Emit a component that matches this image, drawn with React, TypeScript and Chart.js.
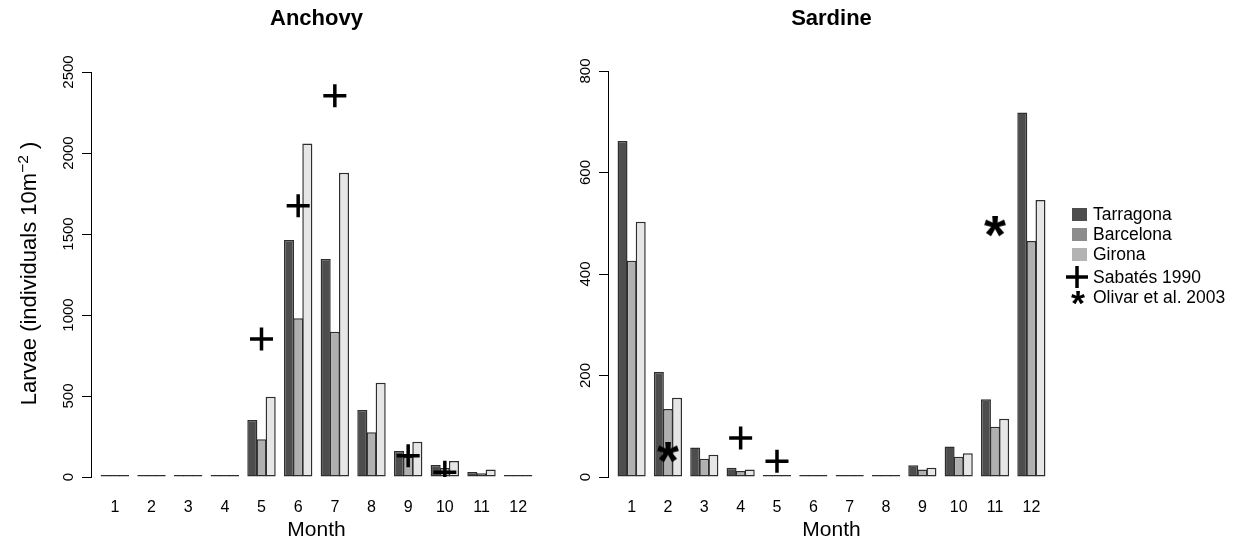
import React, { useEffect, useRef } from 'react';
import { Chart, registerables } from 'chart.js';

Chart.register(...registerables);

const FONT = "'Liberation Sans', Arial, Helvetica, sans-serif";

// ---- data ----
const months = [1, 2, 3, 4, 5, 6, 7, 8, 9, 10, 11, 12];
const monthLabels = ['1', '2', '3', '4', '5', '6', '7', '8', '9', '10', '11', '12'];

const seriesNames = ['Tarragona', 'Barcelona', 'Girona'];

const anchovyTarragona = [0, 0, 0, 0, 352, 1463, 1345, 413, 160, 74, 31, 0];
const anchovyBarcelona = [0, 0, 0, 0, 233, 980, 897, 276, 125, 55, 23, 0];
const anchovyGirona = [0, 0, 0, 0, 496, 2058, 1878, 582, 218, 99, 47, 0];

const sardineTarragona = [662, 207, 58, 18, 0, 0, 0, 0, 23, 60, 153, 718];
const sardineBarcelona = [426, 134, 36, 12, 0, 0, 0, 0, 15, 40, 99, 465];
const sardineGirona = [503, 156, 44, 15, 0, 0, 0, 0, 18, 47, 115, 546];

const anchovySabatesMonths = [5, 6, 7, 9, 10];
const anchovySabatesValues = [852, 1675, 2354, 131, 29];

const sardineSabatesMonths = [4, 5];
const sardineSabatesValues = [77, 31];

const sardineOlivarMonths = [2, 11];
const sardineOlivarValues = [48, 493];

const anchovyTicks = [0, 500, 1000, 1500, 2000, 2500];
const sardineTicks = [0, 200, 400, 600, 800];

const markerLabels = ['Sabatés 1990', 'Olivar et al. 2003'];
const yTitleMain = 'Larvae (individuals 10m';
const yTitleSup = '\u22122';
const yTitleEnd = ' )';

// ---- styles ----
const BAR_COLORS = ['#4d4d4d', '#b0b0b0', '#e6e6e6'];
const LEGEND_COLORS = ['#4d4d4d', '#8c8c8c', '#b3b3b3'];
const BORDER = '#2e2e2e';
const X_MIN = 0.35;
const X_MAX = 12.65;

function makeAsterisk(size: number): HTMLCanvasElement {
  const c = document.createElement('canvas');
  c.width = size;
  c.height = size;
  const ctx = c.getContext('2d')!;
  ctx.font = `bold 100px ${FONT}`;
  ctx.textAlign = 'left';
  ctx.textBaseline = 'alphabetic';
  const m = ctx.measureText('*');
  const gw = m.actualBoundingBoxLeft + m.actualBoundingBoxRight;
  const gh = m.actualBoundingBoxAscent + m.actualBoundingBoxDescent;
  const s = size / Math.max(gw, gh, 1);
  const cx = (m.actualBoundingBoxRight - m.actualBoundingBoxLeft) / 2;
  const cy = (m.actualBoundingBoxDescent - m.actualBoundingBoxAscent) / 2;
  ctx.translate(size / 2, size / 2);
  ctx.scale(s, s);
  ctx.fillStyle = '#000';
  ctx.fillText('*', -cx, -cy);
  return c;
}

// rotated y-axis title with a real superscript, drawn with canvas text
const yTitlePlugin = {
  id: 'yTitleSup',
  afterDraw(chart: any, _args: any, opts: any) {
    if (!opts || !opts.display) return;
    const ctx = chart.ctx as CanvasRenderingContext2D;
    const area = chart.chartArea;
    const big = `22px ${FONT}`;
    const small = `15.5px ${FONT}`;
    ctx.save();
    ctx.font = big;
    const w1 = ctx.measureText(yTitleMain).width;
    const w3 = ctx.measureText(yTitleEnd).width;
    ctx.font = small;
    const w2 = ctx.measureText(yTitleSup).width;
    const total = w1 + w2 + w3;
    const cy = (area.top + area.bottom) / 2 - 1;
    ctx.translate(0, cy);
    ctx.rotate(-Math.PI / 2);
    ctx.fillStyle = '#000';
    ctx.textBaseline = 'alphabetic';
    ctx.textAlign = 'left';
    const base = opts.baseline;
    let u = -total / 2;
    ctx.font = big;
    ctx.fillText(yTitleMain, u, base);
    u += w1;
    ctx.font = small;
    ctx.fillText(yTitleSup, u, base - 8.5);
    u += w2;
    ctx.font = big;
    ctx.fillText(yTitleEnd, u, base);
    ctx.restore();
  },
};

type Marker = { label: string; months: number[]; values: number[]; kind: 'plus' | 'star' };

type PanelProps = {
  title: string;
  series: number[][];
  markers: Marker[];
  yTicks: number[];
  yTitle: boolean;
  left: number;
  width: number;
  yAxisWidth: number;
  padRight: number;
  plotTop: number;
  tickPad: number;
};

function Panel(props: PanelProps) {
  const ref = useRef<HTMLCanvasElement | null>(null);
  useEffect(() => {
    const canvas = ref.current;
    if (!canvas) return;
    const star = makeAsterisk(22);
    const titleTop = 5.8;
    const titleLine = 22 * 1.2;
    const titleBottom = props.plotTop - titleTop - titleLine;
    const yMax = props.yTicks[props.yTicks.length - 1];
    const yStep = props.yTicks[1] - props.yTicks[0];

    const barSets = props.series.map((vals, i) => ({
      type: 'bar' as const,
      label: seriesNames[i],
      data: months.map((m, j) => ({ x: m, y: vals[j] })),
      backgroundColor: BAR_COLORS[i],
      borderColor: BORDER,
      borderWidth: 1.5,
      borderSkipped: false,
      minBarLength: 2,
      categoryPercentage: 0.75,
      barPercentage: 1.1,
      order: 1,
    }));
    const markSets = props.markers.map((mk) => ({
      type: 'scatter' as const,
      label: mk.label,
      data: mk.months.map((m, j) => ({ x: m, y: mk.values[j] })),
      pointStyle: mk.kind === 'plus' ? 'cross' : star,
      pointRadius: 11.5,
      pointBorderWidth: 3.5,
      borderColor: '#000',
      backgroundColor: '#000',
      order: 0,
    }));

    const chart = new Chart(canvas, {
      type: 'bar',
      data: { datasets: [...barSets, ...markSets] as any },
      plugins: [yTitlePlugin as any],
      options: {
        animation: false,
        responsive: false,
        devicePixelRatio: 1,
        layout: { padding: { left: 0, right: props.padRight, top: 0, bottom: 0 } },
        plugins: {
          legend: { display: false },
          tooltip: { enabled: false },
          yTitleSup: { display: props.yTitle, baseline: 36 },
          title: {
            display: true,
            text: props.title,
            fullSize: false,
            color: '#000',
            font: { family: FONT, size: 22, weight: 'bold' },
            padding: { top: titleTop, bottom: titleBottom },
          },
        } as any,
        scales: {
          x: {
            type: 'linear',
            min: X_MIN,
            max: X_MAX,
            offset: false,
            bounds: 'data',
            afterBuildTicks: (s: any) => {
              s.ticks = months.map((v) => ({ value: v }));
            },
            afterFit: (s: any) => {
              s.height = 70;
            },
            grid: { display: false, drawTicks: false },
            border: { display: false },
            ticks: {
              autoSkip: false,
              minRotation: 0,
              maxRotation: 0,
              padding: 21,
              color: '#000',
              font: { family: FONT, size: 16 },
              callback: (v: any) => {
                const k = months.indexOf(Number(v));
                return k >= 0 ? monthLabels[k] : '';
              },
            },
            title: {
              display: true,
              text: 'Month',
              color: '#000',
              font: { family: FONT, size: 21 },
              padding: { top: 0, bottom: 4.4 },
            },
          },
          y: {
            type: 'linear',
            min: 0,
            max: yMax,
            afterBuildTicks: (s: any) => {
              s.ticks = props.yTicks.map((v) => ({ value: v }));
            },
            afterFit: (s: any) => {
              s.width = props.yAxisWidth;
            },
            grid: {
              display: true,
              drawOnChartArea: false,
              drawTicks: true,
              tickLength: 9,
              color: '#000',
              lineWidth: 1,
            },
            border: { display: true, color: '#000', width: 1 },
            ticks: {
              stepSize: yStep,
              minRotation: 90,
              maxRotation: 90,
              crossAlign: 'center',
              padding: props.tickPad,
              color: '#000',
              font: { family: FONT, size: 15 },
              callback: (v: any) => String(v),
            },
            title: { display: false },
          },
        },
      } as any,
    });
    return () => chart.destroy();
  }, []);

  return (
    <canvas
      ref={ref}
      width={props.width}
      height={547}
      style={{ position: 'absolute', left: props.left, top: 0, width: props.width, height: 547 }}
    />
  );
}

function LegendStar({ size }: { size: number }) {
  const ref = useRef<HTMLCanvasElement | null>(null);
  useEffect(() => {
    const c = ref.current;
    if (!c) return;
    const img = makeAsterisk(size);
    const ctx = c.getContext('2d')!;
    ctx.clearRect(0, 0, size, size);
    ctx.drawImage(img, 0, 0);
  }, [size]);
  return <canvas ref={ref} width={size} height={size} style={{ display: 'block', width: size, height: size }} />;
}

function Legend() {
  const rowCenters = [214, 234, 254, 277, 297];
  const textLeft = 1093;
  const textStyle: React.CSSProperties = {
    position: 'absolute',
    left: textLeft,
    height: 20,
    lineHeight: '20px',
    fontFamily: FONT,
    fontSize: 17.5,
    color: '#000',
    whiteSpace: 'nowrap',
  };
  return (
    <>
      {seriesNames.map((name, i) => (
        <React.Fragment key={name}>
          <div
            style={{
              position: 'absolute',
              left: 1072,
              top: rowCenters[i] - 6.5,
              width: 15,
              height: 13,
              background: LEGEND_COLORS[i],
            }}
          />
          <div style={{ ...textStyle, top: rowCenters[i] - 10 }}>{name}</div>
        </React.Fragment>
      ))}
      <svg
        width={24}
        height={24}
        style={{ position: 'absolute', left: 1077 - 12, top: rowCenters[3] - 12 }}
      >
        <path d="M1 12H23M12 1V23" stroke="#000" strokeWidth={3.5} fill="none" />
      </svg>
      <div style={{ ...textStyle, top: rowCenters[3] - 10 }}>{markerLabels[0]}</div>
      <div style={{ position: 'absolute', left: 1078 - 7, top: rowCenters[4] - 7 }}>
        <LegendStar size={14} />
      </div>
      <div style={{ ...textStyle, top: rowCenters[4] - 10 }}>{markerLabels[1]}</div>
    </>
  );
}

export default function App() {
  return (
    <div style={{ position: 'absolute', left: 0, top: 0, width: 1243, height: 547, background: '#fff', overflow: 'hidden' }}>
      <Panel
        title="Anchovy"
        series={[anchovyTarragona, anchovyBarcelona, anchovyGirona]}
        markers={[
          { label: markerLabels[0], months: anchovySabatesMonths, values: anchovySabatesValues, kind: 'plus' },
        ]}
        yTicks={anchovyTicks}
        yTitle={true}
        left={0}
        width={560}
        yAxisWidth={91}
        padRight={18}
        plotTop={72}
        tickPad={-3.2}
      />
      <Panel
        title="Sardine"
        series={[sardineTarragona, sardineBarcelona, sardineGirona]}
        markers={[
          { label: markerLabels[0], months: sardineSabatesMonths, values: sardineSabatesValues, kind: 'plus' },
          { label: markerLabels[1], months: sardineOlivarMonths, values: sardineOlivarValues, kind: 'star' },
        ]}
        yTicks={sardineTicks}
        yTitle={false}
        left={560}
        width={683}
        yAxisWidth={48}
        padRight={188}
        plotTop={71}
        tickPad={1}
      />
      <Legend />
    </div>
  );
}
